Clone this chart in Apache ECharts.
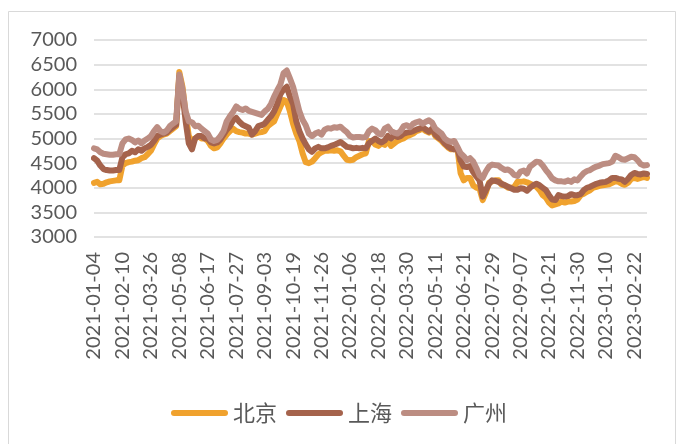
<!DOCTYPE html>
<html><head><meta charset="utf-8">
<script src="https://cdn.jsdelivr.net/npm/echarts@6/dist/echarts.min.js"></script>
<style>html,body{margin:0;padding:0;background:#fff}#c{width:678px;height:444px}</style>
</head><body><div id="c"></div>
<script>
// Tick labels (one every 9 points)
const tickLabels = ['2021-01-04','2021-02-10','2021-03-26','2021-05-08','2021-06-17','2021-07-27','2021-09-03','2021-10-19','2021-11-26','2022-01-06','2022-02-18','2022-03-30','2022-05-11','2022-06-21','2022-07-29','2022-09-07','2022-10-21','2022-11-30','2023-01-10','2023-02-22'];
const seriesNames = ['北京','上海','广州'];
const beijing = [4100,4120,4070,4080,4110,4130,4140,4150,4150,4450,4500,4520,4530,4550,4560,4600,4620,4680,4750,4880,5000,5050,5080,5100,5150,5200,5250,6350,6050,5500,5050,4950,5000,5050,5000,5000,4950,4850,4800,4820,4900,5000,5080,5150,5200,5150,5130,5120,5100,5100,5080,5100,5120,5130,5150,5250,5300,5350,5500,5650,5780,5750,5550,5300,5100,4950,4700,4520,4500,4530,4600,4680,4720,4750,4750,4760,4750,4760,4740,4650,4570,4560,4570,4620,4650,4680,4700,4950,4950,4880,4850,4900,4870,4950,4850,4900,4950,4980,5000,5050,5070,5100,5150,5170,5200,5150,5120,5180,5050,5000,4950,4880,4820,4780,4780,4800,4300,4150,4200,4200,4050,4000,3980,3750,3900,4100,4130,4150,4150,4060,4050,4000,4000,4020,4120,4120,4130,4110,4080,4050,4020,3950,3850,3800,3700,3640,3660,3680,3720,3700,3720,3720,3730,3760,3850,3880,3920,3950,4000,4020,4040,4050,4060,4070,4100,4130,4120,4080,4060,4100,4180,4200,4180,4200,4220,4200];
const shanghai = [4600,4550,4450,4380,4360,4350,4350,4360,4360,4620,4680,4700,4750,4720,4780,4750,4800,4830,4870,4950,5050,5080,5100,5120,5180,5230,5280,6250,5900,5350,4900,4780,5000,5050,5050,5000,5000,4920,4900,4920,4980,5080,5180,5250,5370,5420,5340,5280,5250,5220,5080,5150,5250,5270,5300,5380,5450,5550,5700,5900,6000,6050,5850,5700,5350,5150,5000,4880,4780,4730,4800,4830,4800,4800,4820,4850,4870,4900,4930,4880,4830,4820,4800,4810,4800,4810,4800,4900,4950,5000,4950,4920,4960,5050,5000,5070,5030,5050,5100,5120,5130,5150,5180,5200,5230,5180,5140,5200,5080,5020,4980,4900,4840,4800,4780,4800,4550,4430,4420,4440,4320,4230,4150,3820,3950,4080,4150,4140,4120,4080,4050,4020,3990,3960,3960,3990,3980,3940,4000,4050,4080,4050,4000,3950,3850,3760,3750,3850,3830,3820,3830,3870,3850,3850,3870,3950,4000,4020,4050,4080,4100,4110,4120,4150,4200,4200,4180,4170,4120,4180,4260,4300,4280,4270,4290,4280];
const guangzhou = [4800,4780,4720,4690,4680,4670,4670,4680,4680,4900,4980,5000,4970,4920,4960,4900,4960,5000,5050,5150,5230,5150,5120,5160,5250,5300,5350,6300,6000,5550,5350,5330,5250,5260,5200,5150,5100,4980,4950,4970,5050,5150,5350,5450,5540,5650,5600,5580,5610,5560,5540,5520,5500,5480,5550,5600,5700,5850,5980,6100,6330,6380,6220,6050,5800,5550,5380,5270,5100,5050,5100,5130,5080,5180,5210,5200,5230,5220,5240,5180,5130,5050,5020,5030,5030,5020,5030,5150,5200,5170,5100,5080,5200,5240,5150,5120,5100,5150,5250,5270,5230,5300,5330,5350,5300,5340,5370,5320,5200,5150,5100,5000,4950,4930,4950,4830,4700,4640,4560,4600,4530,4400,4250,4200,4330,4430,4470,4460,4450,4400,4360,4370,4330,4260,4240,4330,4350,4290,4430,4480,4530,4520,4450,4360,4280,4190,4150,4130,4130,4120,4150,4120,4170,4150,4230,4300,4340,4360,4400,4430,4450,4480,4490,4500,4530,4650,4620,4580,4570,4600,4630,4620,4560,4480,4450,4460];
const colors = ['#F0A22E','#A5634C','#BC8D82'];

const categories = beijing.map((_, i) => (i % 9 === 0 ? tickLabels[i / 9] : ''));

const chart = echarts.init(document.getElementById('c'), null, {renderer: 'canvas'});
const font = 'Lato, "Noto Sans", sans-serif';
chart.setOption({
  animation: false,
  backgroundColor: '#ffffff',
  color: colors,
  graphic: [{
    type: 'rect', silent: true, z: -1,
    shape: {x: 8.5, y: 11.5, width: 667, height: 440},
    style: {fill: 'none', stroke: '#D9D9D9', lineWidth: 1}
  }],
  grid: {left: 94, right: 31, top: 40, bottom: 207, containLabel: false},
  legend: {
    data: seriesNames,
    left: 'center', top: 397,
    itemWidth: 57, itemHeight: 6, itemGap: 9,
    icon: 'path://M3,0 L54,0 A3,3 0 0 1 54,6 L3,6 A3,3 0 0 1 3,0 Z',
    textStyle: {fontFamily: '"Noto Sans CJK SC", sans-serif', fontSize: 22, color: '#595959'}
  },
  xAxis: {
    type: 'category',
    data: categories,
    boundaryGap: false,
    axisLine: {show: false},
    axisTick: {show: false},
    splitLine: {show: false},
    axisLabel: {
      interval: 8, rotate: 90, margin: 15,
      fontFamily: font, fontSize: 20, color: '#595959'
    }
  },
  yAxis: {
    type: 'value', min: 3000, max: 7000, interval: 500,
    axisLine: {show: false}, axisTick: {show: false},
    splitLine: {lineStyle: {color: '#D9D9D9', width: 1.5}},
    axisLabel: {margin: 17, fontFamily: font, fontSize: 20, color: '#595959',
      formatter: v => String(v)}
  },
  series: [beijing, shanghai, guangzhou].map((d, k) => ({
    name: seriesNames[k], type: 'line', data: d,
    showSymbol: false, symbol: 'none',
    lineStyle: {width: 6, color: colors[k], join: 'round', cap: 'round'},
    itemStyle: {color: colors[k]}
  }))
});
</script></body></html>
